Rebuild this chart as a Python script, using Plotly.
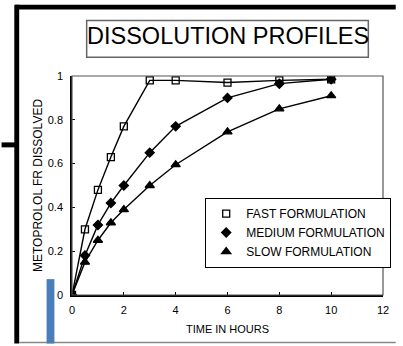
import plotly.graph_objects as go

time_h = [0, 0.5, 1, 1.5, 2, 3, 4, 6, 8, 10]
fast = [0.0, 0.30, 0.48, 0.63, 0.77, 0.98, 0.98, 0.97, 0.98, 0.985]
medium = [0.0, 0.18, 0.32, 0.42, 0.50, 0.65, 0.77, 0.90, 0.965, 0.985]
slow = [0.0, 0.15, 0.25, 0.33, 0.39, 0.50, 0.595, 0.745, 0.85, 0.91]
series_names = ["FAST FORMULATION", "MEDIUM FORMULATION", "SLOW FORMULATION"]
x_ticks = [0, 2, 4, 6, 8, 10, 12]
y_ticks = [0, 0.2, 0.4, 0.6, 0.8, 1]
y_tick_text = ["0", "0.2", "0.4", "0.6", "0.8", "1"]

FONT = "Liberation Sans, Arial, sans-serif"

W, H = 403, 346
L, R, T, B = 72, 13, 76, 49
pw, ph = W - L - R, H - T - B

def px(x):
    return (x - L) / pw

def py(y):
    return (H - B - y) / ph

fig = go.Figure()
series = [fast, medium, slow]
symbols = ["square-open", "diamond", "triangle-up"]
msizes = [7, 7, 8]
for vals in series:
    fig.add_trace(go.Scatter(x=time_h, y=vals, mode="lines", showlegend=False,
                             line=dict(color="black", width=1.4), hoverinfo="skip"))
for vals, name, sym, ms in zip(series, series_names, symbols, msizes):
    fig.add_trace(go.Scatter(x=time_h, y=vals, mode="markers", name=name,
                             marker=dict(symbol=sym, size=ms, color="black",
                                         line=dict(color="black", width=1.3))))

shapes = []
# title box
shapes.append(dict(type="rect", xref="paper", yref="paper", x0=px(87), x1=px(375), y0=py(57), y1=py(20),
                   line=dict(color="#666666", width=1.5)))
# plot frame (top/right)
shapes.append(dict(type="rect", xref="paper", yref="paper", x0=0, x1=1, y0=0, y1=1,
                   line=dict(color="#555555", width=1.2)))
# scanned page borders
shapes.append(dict(type="rect", xref="paper", yref="paper", x0=px(14), x1=px(403), y0=py(9), y1=py(4),
                   fillcolor="black", line=dict(width=0)))
shapes.append(dict(type="rect", xref="paper", yref="paper", x0=px(13), x1=px(18), y0=py(346), y1=py(4),
                   fillcolor="black", line=dict(width=0)))
shapes.append(dict(type="rect", xref="paper", yref="paper", x0=px(0), x1=px(17), y0=py(148), y1=py(143),
                   fillcolor="black", line=dict(width=0)))
shapes.append(dict(type="line", xref="paper", yref="paper", x0=px(18), x1=px(403), y0=py(345), y1=py(345),
                   line=dict(color="#888888", width=1.5)))
shapes.append(dict(type="rect", xref="paper", yref="paper", x0=px(46), x1=px(54), y0=py(346), y1=py(281),
                   fillcolor="#4a7ebb", line=dict(width=0)))

fig.update_layout(
    width=W, height=H,
    margin=dict(l=L, r=R, t=T, b=B),
    paper_bgcolor="white", plot_bgcolor="white",
    font=dict(family=FONT, color="black", size=11),
    shapes=shapes,
    showlegend=True,
    legend=dict(x=px(208), y=py(199), xanchor="left", yanchor="top",
                bordercolor="black", borderwidth=1.2, bgcolor="white",
                font=dict(family=FONT, size=12, color="black"),
                itemwidth=30, tracegroupgap=0),
    annotations=[dict(text="DISSOLUTION PROFILES", xref="paper", yref="paper",
                      x=px(232), y=py(36), xanchor="center", yanchor="middle", showarrow=False,
                      font=dict(family=FONT, size=23.5, color="black"))],
)
fig.update_xaxes(range=[0, 12], tickvals=x_ticks, ticks="inside", ticklen=3, tickcolor="black",
                 showline=True, linecolor="black", linewidth=2, showgrid=False, zeroline=False,
                 ticklabelstandoff=4,
                 title=dict(text="TIME IN HOURS", font=dict(family=FONT, size=11), standoff=10),
                 tickfont=dict(family=FONT, size=11))
fig.update_yaxes(range=[0, 1], tickvals=y_ticks, ticktext=y_tick_text, ticks="inside", ticklen=3,
                 tickcolor="black", showline=True, linecolor="black", linewidth=1.5, showgrid=False,
                 zeroline=False, ticklabelstandoff=5,
                 title=dict(text="METOPROLOL FR DISSOLVED", font=dict(family=FONT, size=12), standoff=3),
                 tickfont=dict(family=FONT, size=11))

fig.write_html("out.html")
